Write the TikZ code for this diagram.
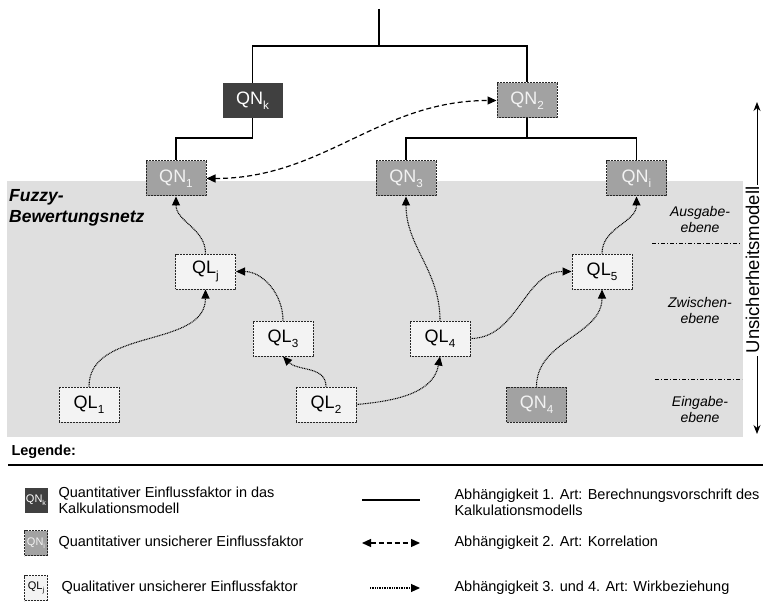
\documentclass[tikz,border=0pt]{standalone}
\usepackage{fontspec}
\setmainfont{Liberation Sans}
\usetikzlibrary{arrows.meta}
\definecolor{netzgrau}{HTML}{DFDFDF}
\definecolor{qnkfill}{HTML}{404040}
\definecolor{qnfill}{HTML}{A2A2A2}
\definecolor{qlfill}{HTML}{F3F3F3}
\newcommand\subx[1]{\raisebox{-0.3em}{\scalebox{0.65}{#1}}}

\begin{document}
\begin{tikzpicture}[x=1pt,y=1pt,
  box/.style={minimum width=60pt,minimum height=35pt,inner sep=0pt,font=\fontsize{18}{20}\selectfont},
  qnkbox/.style={box,fill=qnkfill,text=white},
  qnbox/.style={box,fill=qnfill,text=white!95!black,draw=black!85,line width=1pt,dash pattern=on 0.8pt off 0.7pt},
  qlbox/.style={box,fill=qlfill,draw=black!85,line width=1pt,dash pattern=on 0.8pt off 0.7pt},
  legsmall/.style={minimum width=23pt,minimum height=25pt,font=\fontsize{11}{12}\selectfont},
  calcline/.style={line width=1.3pt},
  korr/.style={line width=1.2pt,dash pattern=on 5pt off 3pt,{Triangle[length=9pt,width=8pt]}-{Triangle[length=9pt,width=8pt]}},
  wirk/.style={line width=1.1pt,dash pattern=on 0.9pt off 0.8pt,-{Triangle[length=9pt,width=8pt]}},
  ebene/.style={font=\itshape\fontsize{14}{16}\selectfont,align=center},
  legtext/.style={anchor=west,align=left,font=\fontsize{14.5}{16}\selectfont},
]
\useasboundingbox (0,0) rectangle (763,-604);

% background of the fuzzy evaluation network
\fill[netzgrau] (7,-181) rectangle (743,-437);
\node[anchor=north west,align=left,font=\bfseries\itshape\fontsize{17.5}{21}\selectfont,inner sep=0pt] (fbn) at (9,-189) {Fuzzy-\\Bewertungsnetz};

% level labels and separators
\node[ebene] (aus) at (700,-219) {Ausgabe-\\ebene};
\node[ebene] (zwi) at (700,-310) {Zwischen-\\ebene};
\node[ebene] (ein) at (700,-409) {Eingabe-\\ebene};
\coordinate (s1l) at (652,-243); \coordinate (s1r) at (740,-243);
\coordinate (s2l) at (655,-379); \coordinate (s2r) at (742,-379);
\draw[line width=0.9pt,dash pattern=on 4pt off 2pt on 1pt off 2pt] (s1l) -- (s1r);
\draw[line width=0.9pt,dash pattern=on 4pt off 2pt on 1pt off 2pt] (s2l) -- (s2r);

% uncertainty model axis
\node[rotate=90,font=\fontsize{18.5}{19}\selectfont,inner xsep=4pt,inner ysep=0pt] (um) at (752.5,-270) {Unsicherheitsmodell};
\coordinate (umtop) at (757,-102);
\coordinate (umbot) at (757,-434);
\coordinate (umu) at (757,-185);
\coordinate (uml) at (757,-356);
\draw[line width=1pt,-{Stealth[length=9pt,width=7pt]}] (umu) -- (umtop);
\draw[line width=1pt,-{Stealth[length=9pt,width=7pt]}] (uml) -- (umbot);

% nodes
\node[qnkbox] (qnk) at (252.5,-100.5) {QN\subx{k}};
\node[qnbox] (qn2) at (527,-100.5) {QN\subx{2}};
\node[qnbox] (qn1) at (176,-178.5) {QN\subx{1}};
\node[qnbox] (qn3) at (406,-178.5) {QN\subx{3}};
\node[qnbox] (qni) at (636.5,-178.5) {QN\subx{i}};
\node[qlbox] (qlj) at (205.5,-271.5) {QL\subx{j}};
\node[qlbox] (ql5) at (602,-271.5) {QL\subx{5}};
\node[qlbox] (ql3) at (283,-338.5) {QL\subx{3}};
\node[qlbox] (ql4) at (440,-338.5) {QL\subx{4}};
\node[qlbox] (ql1) at (89,-404.5) {QL\subx{1}};
\node[qlbox] (ql2) at (326,-404.5) {QL\subx{2}};
\node[qnbox] (qn4) at (536.5,-404.5) {QN\subx{4}};

% calculation model tree
\coordinate (top) at (379,-9);
\coordinate (j0) at (379,-46);
\coordinate (j1) at (252.5,-138);
\coordinate (j2) at (527,-138);
\draw[calcline] (top) -- (j0);
\draw[calcline] (qnk.north) |- (j0) -| (qn2.north);
\draw[calcline] (qnk.south) -- (j1) -| (qn1.north);
\draw[calcline] (qn2.south) -- (j2);
\draw[calcline] (qn3.north) |- (j2) -| (qni.north);

% correlation
\draw[korr] (qn1.east) to[out=0,in=180] (qn2.west);

% cause-effect relations
\draw[wirk] (qlj.north) to[out=90,in=-90] (qn1.south);
\draw[wirk] (ql1.north) to[out=90,in=-90] (qlj.south);
\draw[wirk] (ql3.north) to[out=90,in=0] (qlj.east);
\draw[wirk] (ql2.north) to[out=90,in=-45] (ql3.south);
\draw[wirk] (ql2.east) to[out=5,in=-100] (ql4.south);
\draw[wirk] (ql4.north) to[out=90,in=-90] (qn3.south);
\draw[wirk] (ql4.east) to[out=0,in=180] (ql5.west);
\draw[wirk] (qn4.north) to[out=90,in=-90] (ql5.south);
\draw[wirk] (ql5.north) to[out=90,in=-90] (qni.south);

% legend
\node[anchor=west,font=\bfseries\fontsize{14.5}{16}\selectfont] (leg) at (8,-452) {Legende:};
\coordinate (lla) at (8,-465); \coordinate (llb) at (763,-465);
\draw[line width=1.3pt] (lla) -- (llb);

\node[qnkbox,legsmall] (lb1) at (36,-500) {QN\subx{k}};
\node[qnbox,legsmall] (lb2) at (36,-543) {QN\subx{i}};
\node[qlbox,legsmall] (lb3) at (36,-588) {QL\subx{j}};
\node[legtext] (lt1) at (55,-500) {Quantitativer Einflussfaktor in das\\Kalkulationsmodell};
\node[legtext] (lt2) at (55,-543) {Quantitativer unsicherer Einflussfaktor};
\node[legtext] (lt3) at (58,-588) {Qualitativer unsicherer Einflussfaktor};

\coordinate (la1) at (362,-500); \coordinate (lb1e) at (420,-500);
\coordinate (la2) at (362,-543); \coordinate (lb2e) at (420,-543);
\coordinate (la3) at (370,-588); \coordinate (lb3e) at (420,-588);
\draw[calcline] (la1) -- (lb1e);
\draw[korr] (la2) -- (lb2e);
\draw[wirk] (la3) -- (lb3e);
\node[legtext] (rt1) at (451,-502) {Abhängigkeit 1. Art: Berechnungsvorschrift des\\Kalkulationsmodells};
\node[legtext] (rt2) at (451,-543) {Abhängigkeit 2. Art: Korrelation};
\node[legtext] (rt3) at (451,-588) {Abhängigkeit 3. und 4. Art: Wirkbeziehung};
\end{tikzpicture}
\end{document}
